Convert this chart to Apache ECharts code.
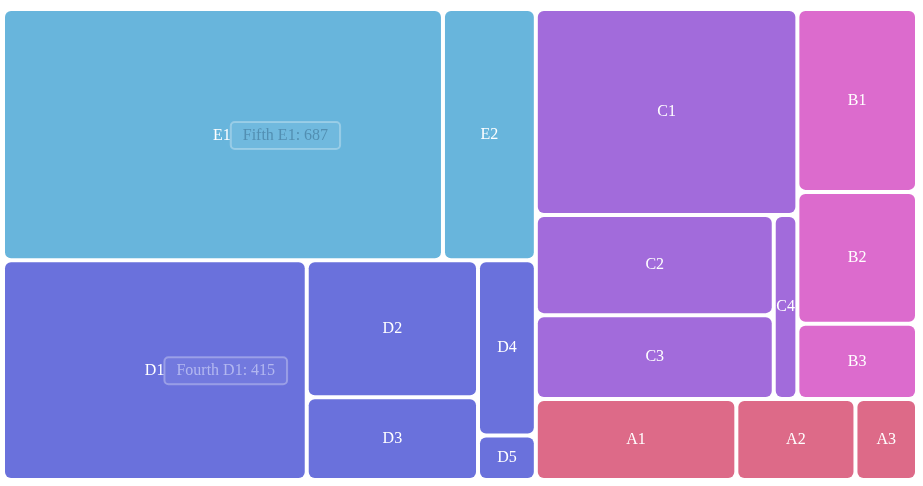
<!DOCTYPE html>
<html>
<head>
<meta charset="utf-8">
<style>html,body{margin:0;padding:0;background:#fff;}#main{width:923px;height:486px;}</style>
<script src="https://cdn.jsdelivr.net/npm/echarts@6/dist/echarts.min.js"></script>
</head>
<body>
<div id="main"></div>
<script>
const groupNames = ['First', 'Second', 'Third', 'Fourth', 'Fifth'];
const groupColors = ['#dd6a88', '#dc6bcd', '#a26bdb', '#6a71dc', '#68b5dc'];
const childNames = [
  ['A1', 'A2', 'A3'],
  ['B1', 'B2', 'B3'],
  ['C1', 'C2', 'C3', 'C4'],
  ['D1', 'D2', 'D3', 'D4', 'D5'],
  ['E1', 'E2']
];
const childValues = [
  [101, 60, 31],
  [136, 98, 56],
  [335, 148, 124, 27],
  [415, 146, 88, 63, 16],
  [687, 145]
];
// nodes that carry a callout box beside their name (callout text colour)
const callouts = { 'E1': 'rgba(70,125,160,0.7)', 'D1': 'rgba(205,210,248,0.7)' };

function buildData(shifts) {
  return groupNames.map((g, gi) => ({
    name: g,
    itemStyle: { color: groupColors[gi] },
    children: childNames[gi].map((n, ci) => {
      const node = { name: n, value: childValues[gi][ci] };
      if (callouts[n]) {
        node.label = {
          position: 'inside',
          align: 'left',
          verticalAlign: 'middle',
          offset: [-15, shifts[n] || 0],
          formatter: '{n|' + n + '}{b|' + g + ' ' + n + ': ' + childValues[gi][ci] + '}',
          rich: {
            n: { color: '#fff', fontSize: 16, fontFamily: 'Liberation Serif' },
            b: {
              color: callouts[n], fontSize: 16, fontFamily: 'Liberation Serif',
              backgroundColor: 'rgba(255,255,255,0.06)',
              borderColor: 'rgba(255,255,255,0.3)', borderWidth: 1, borderRadius: 4,
              padding: [6, 12, 5, 12]
            }
          }
        };
      }
      return node;
    })
  }));
}

function makeOption(shifts) {
  return {
    animation: false,
    series: [{
      type: 'treemap',
      left: 5, top: 11, right: 8, bottom: 8,
      roam: false,
      nodeClick: false,
      breadcrumb: { show: false },
      itemStyle: { borderColor: '#fff', borderWidth: 0, gapWidth: 4, borderRadius: 6 },
      label: {
        show: true, position: 'inside', color: '#fff', fontSize: 16,
        fontFamily: 'Liberation Serif', overflow: 'none'
      },
      levels: [
        { itemStyle: { borderWidth: 0, gapWidth: 4 } },
        { itemStyle: { borderWidth: 0, gapWidth: 4, borderRadius: 6 } }
      ],
      data: buildData(shifts)
    }]
  };
}

const chart = echarts.init(document.getElementById('main'));
chart.setOption(makeOption({}));
// shift the rich callout labels down to the vertical centre of their node
const shifts = {};
try {
  const sd = chart.getModel().getSeriesByIndex(0).getData();
  for (let i = 0; i < sd.count(); i++) {
    const nm = sd.getName(i);
    if (callouts[nm]) {
      const l = sd.getItemLayout(i);
      if (l) shifts[nm] = Math.round(l.height / 2 - 17.5);
    }
  }
} catch (e) {}
chart.setOption(makeOption(shifts), true);
</script>
</body>
</html>
